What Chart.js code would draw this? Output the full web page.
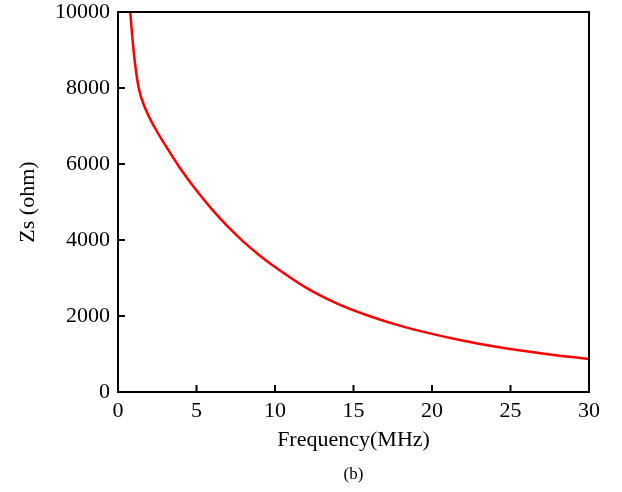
<!DOCTYPE html>
<html>
<head>
<meta charset="utf-8">
<script src="https://cdn.jsdelivr.net/npm/chart.js@4.4.0/dist/chart.umd.min.js"></script>
<style>
  body { margin: 0; background: #fff; }
  #wrap { width: 622px; height: 492px; }
</style>
</head>
<body>
<div id="wrap"><canvas id="chart" width="622" height="492"></canvas></div>
<script>
// valores
const freqMHz = [0.78, 0.9, 1.06, 1.32, 1.78, 2.31, 3.2, 4.0, 5.0, 6.0, 7.0, 8.0, 9.0, 10, 12, 14, 16, 18, 20, 22, 24, 26, 28, 30];
const zsOhm = [10000, 9400, 8730, 8000, 7420, 6980, 6370, 5860, 5300, 4800, 4350, 3950, 3600, 3290, 2740, 2320, 2000, 1740, 1530, 1350, 1200, 1070, 960, 870];
const xTicks = [0, 5, 10, 15, 20, 25, 30];
const yTicks = [0, 2000, 4000, 6000, 8000, 10000];

const serif = 'Liberation Serif';

// marco negro, ticks hacia adentro y titulos
const framePlugin = {
    id: 'frame',
    afterDraw(chart) {
        const c = chart.ctx, a = chart.chartArea;
        const xs = chart.scales.x, ys = chart.scales.y;
        c.save();
        c.strokeStyle = '#000';
        c.lineWidth = 2;
        c.strokeRect(a.left, a.top, a.right - a.left, a.bottom - a.top);
        c.beginPath();
        xTicks.forEach(v => {
            const px = xs.getPixelForValue(v);
            c.moveTo(px, a.bottom);
            c.lineTo(px, a.bottom - 7);
        });
        yTicks.forEach(v => {
            const py = ys.getPixelForValue(v);
            c.moveTo(a.left, py);
            c.lineTo(a.left + 7, py);
        });
        c.stroke();

        c.fillStyle = '#000';
        c.textAlign = 'center';
        c.textBaseline = 'middle';
        c.font = '22px "' + serif + '"';
        c.fillText('Frequency(MHz)', (a.left + a.right) / 2, 440);
        c.save();
        c.translate(28, (a.top + a.bottom) / 2);
        c.rotate(-Math.PI / 2);
        c.fillText('Zs (ohm)', 0, 0);
        c.restore();
        c.font = '17px "' + serif + '"';
        c.fillText('(b)', (a.left + a.right) / 2, 475);
        c.restore();
    }
};

const ctx = document.getElementById('chart').getContext('2d');
const myChart = new Chart(ctx, {
    type: 'line',
    data: {
        datasets: [{
            data: freqMHz.map((f, i) => ({ x: f, y: zsOhm[i] })),
            borderColor: '#ff0000',
            borderWidth: 2.5,
            pointRadius: 0,
            cubicInterpolationMode: 'monotone',
            fill: false
        }]
    },
    options: {
        responsive: false,
        animation: false,
        layout: { padding: { left: 0, top: 12, right: 33, bottom: 0 } },
        plugins: { legend: { display: false }, tooltip: { enabled: false } },
        scales: {
            x: {
                type: 'linear',
                min: 0,
                max: 30,
                afterBuildTicks: s => { s.ticks = xTicks.map(v => ({ value: v })); },
                afterFit: s => { s.height = 100; s.paddingLeft = 0; s.paddingRight = 0; },
                grid: { display: false, drawTicks: false },
                border: { display: false },
                ticks: { color: '#000', padding: 6, font: { family: serif, size: 22 }, callback: v => String(v) }
            },
            y: {
                min: 0,
                max: 10000,
                afterBuildTicks: s => { s.ticks = yTicks.map(v => ({ value: v })); },
                afterFit: s => { s.width = 118; s.paddingTop = 0; s.paddingBottom = 0; },
                grid: { display: false, drawTicks: false },
                border: { display: false },
                ticks: { color: '#000', padding: 8, font: { family: serif, size: 22 }, callback: v => String(v) }
            }
        }
    },
    plugins: [framePlugin]
});
</script>
</body>
</html>
